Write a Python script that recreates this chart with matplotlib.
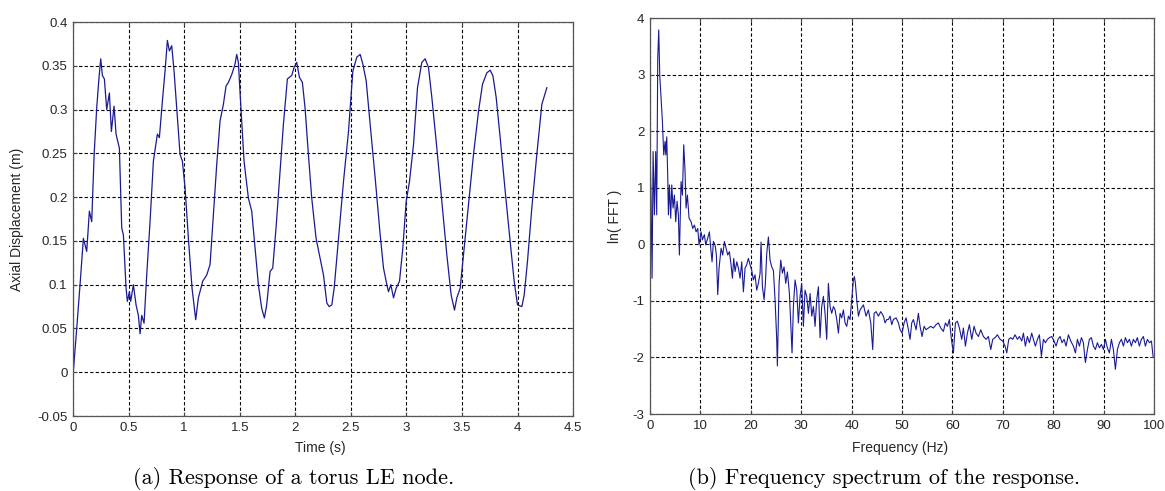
import matplotlib
matplotlib.use('Agg')
import matplotlib.pyplot as plt

# (a) axial displacement of the torus LE node
time_s = [0.0, 0.033, 0.063, 0.093, 0.123, 0.147, 0.168, 0.19, 0.213, 0.234, 0.249, 0.264,
          0.282, 0.303, 0.327, 0.345, 0.369, 0.387, 0.417, 0.438, 0.453, 0.477, 0.489, 0.507,
          0.519, 0.543, 0.567, 0.588, 0.603, 0.618, 0.639, 0.663, 0.693, 0.723, 0.759, 0.777,
          0.807, 0.828, 0.849, 0.867, 0.888, 0.909, 0.933, 0.963, 0.984, 1.008, 1.038, 1.071,
          1.104, 1.128, 1.167, 1.203, 1.233, 1.263, 1.293, 1.323, 1.353, 1.377, 1.398, 1.428,
          1.458, 1.473, 1.488, 1.509, 1.539, 1.578, 1.608, 1.638, 1.668, 1.698, 1.722, 1.743,
          1.773, 1.797, 1.827, 1.863, 1.893, 1.929, 1.968, 1.989, 2.013, 2.037, 2.064, 2.088,
          2.118, 2.148, 2.187, 2.217, 2.254, 2.284, 2.305, 2.329, 2.35, 2.389, 2.434, 2.479,
          2.518, 2.554, 2.584, 2.608, 2.638, 2.674, 2.719, 2.764, 2.794, 2.824, 2.839, 2.86,
          2.884, 2.908, 2.938, 2.968, 2.998, 3.028, 3.064, 3.1, 3.139, 3.169, 3.199, 3.229,
          3.274, 3.319, 3.364, 3.403, 3.433, 3.454, 3.484, 3.514, 3.559, 3.604, 3.649, 3.685,
          3.724, 3.754, 3.778, 3.808, 3.844, 3.889, 3.934, 3.97, 4.0, 4.039, 4.06, 4.09,
          4.129, 4.174, 4.219, 4.264]
displacement = [-0.003, 0.05, 0.10, 0.153, 0.138, 0.184, 0.172, 0.249, 0.302, 0.337, 0.358, 0.339,
                0.335, 0.30, 0.319, 0.275, 0.304, 0.272, 0.256, 0.165, 0.157, 0.096, 0.081, 0.092,
                0.081, 0.10, 0.077, 0.065, 0.044, 0.065, 0.056, 0.111, 0.172, 0.241, 0.272, 0.268,
                0.314, 0.344, 0.379, 0.367, 0.373, 0.344, 0.302, 0.249, 0.241, 0.211, 0.153, 0.096,
                0.06, 0.085, 0.104, 0.111, 0.123, 0.18, 0.237, 0.287, 0.306, 0.327, 0.331, 0.34,
                0.352, 0.363, 0.354, 0.306, 0.241, 0.199, 0.184, 0.142, 0.10, 0.073, 0.062, 0.077,
                0.115, 0.119, 0.165, 0.23, 0.283, 0.335, 0.339, 0.348, 0.354, 0.337, 0.331, 0.302,
                0.249, 0.199, 0.153, 0.134, 0.111, 0.079, 0.075, 0.077, 0.096, 0.153, 0.218, 0.275,
                0.344, 0.36, 0.363, 0.352, 0.333, 0.283, 0.222, 0.157, 0.119, 0.10, 0.092, 0.10,
                0.085, 0.096, 0.104, 0.142, 0.195, 0.218, 0.26, 0.325, 0.354, 0.358, 0.348, 0.314,
                0.256, 0.195, 0.134, 0.088, 0.071, 0.085, 0.096, 0.134, 0.191, 0.249, 0.298, 0.329,
                0.342, 0.345, 0.339, 0.314, 0.268, 0.207, 0.149, 0.104, 0.077, 0.075, 0.088, 0.127,
                0.188, 0.249, 0.306, 0.325]

# (b) ln of the FFT magnitude
freq_hz = [0.0, 0.2, 0.4, 0.6, 0.86, 1.12, 1.32, 1.52, 1.72, 1.92, 2.18, 2.45, 2.71, 2.98, 3.11,
           3.31, 3.51, 3.64, 3.84, 4.10, 4.30, 4.56, 4.83, 5.09, 5.36, 5.62, 5.82, 6.15, 6.42,
           6.68, 6.94, 7.14, 7.41, 7.74, 8.13, 8.47, 8.80, 9.13, 9.46, 9.72, 10.12, 10.38, 10.78,
           11.04, 11.44, 11.77, 12.04, 12.30, 12.57, 12.90, 13.16, 13.43, 13.69, 14.09, 14.42,
           14.75, 15.08, 15.41, 15.74, 16.07, 16.34, 16.60, 16.87, 17.20, 17.53, 17.86, 18.19,
           18.52, 18.85, 19.18, 19.51, 19.84, 20.17, 20.50, 20.83, 21.16, 21.49, 21.83, 22.02,
           22.29, 22.62, 22.88, 23.15, 23.48, 23.81, 24.14, 24.47, 24.80, 25.13, 25.26, 25.60,
           25.93, 26.26, 26.59, 26.92, 27.25, 27.65, 27.91, 28.17, 28.44, 28.77, 29.10, 29.43,
           29.76, 30.09, 30.42, 30.75, 31.08, 31.42, 31.75, 32.08, 32.41, 32.74, 33.07, 33.40,
           33.73, 34.06, 34.39, 34.72, 35.05, 35.38, 35.71, 36.04, 36.38, 36.71, 37.04, 37.37,
           37.70, 38.03, 38.36, 38.69, 39.02, 39.35, 39.68, 40.01, 40.34, 40.54, 40.74, 41.01,
           41.34, 41.67, 42.33, 42.86, 43.32, 43.79, 44.18, 44.45, 44.84, 45.31, 45.77, 46.30,
           46.63, 46.96, 47.29, 47.62, 47.95, 48.28, 48.81, 49.28, 49.61, 50.00, 50.40, 50.80,
           51.26, 51.59, 51.92, 52.25, 52.78, 53.24, 53.57, 53.97, 54.37, 54.76, 55.23, 55.69,
           56.22, 56.75, 57.21, 57.68, 58.20, 58.60, 59.00, 59.39, 59.79, 60.19, 60.59, 60.98,
           61.38, 61.84, 62.17, 62.57, 62.97, 63.36, 63.83, 64.29, 64.69, 65.15, 65.61, 66.14,
           66.67, 67.13, 67.60, 67.99, 68.45, 68.92, 69.45, 69.98, 70.44, 70.77, 71.17, 71.56,
           71.96, 72.42, 72.89, 73.28, 73.75, 74.08, 74.47, 74.87, 75.27, 75.73, 76.06, 76.46,
           76.86, 77.25, 77.65, 78.05, 78.44, 78.84, 79.24, 79.70, 80.16, 80.56, 80.95, 81.35,
           81.75, 82.15, 82.54, 83.01, 83.47, 84.00, 84.40, 84.79, 85.19, 85.59, 85.98, 86.38,
           86.78, 87.17, 87.57, 87.97, 88.36, 88.76, 89.16, 89.55, 89.95, 90.35, 90.74, 91.14,
           91.54, 91.93, 92.33, 92.73, 93.13, 93.52, 93.92, 94.32, 94.71, 95.11, 95.50, 95.90,
           96.30, 96.69, 97.09, 97.49, 97.89, 98.28, 98.68, 99.08, 99.48, 99.81]
ln_fft = [1.70, 0.75, -0.60, 1.64, 0.52, 1.64, 0.52, 3.29, 3.79, 2.99, 2.58, 2.17, 1.58, 1.82, 1.58,
          1.90, 1.17, 0.52, 1.05, 0.46, 1.05, 0.64, 0.87, 0.40, 0.76, 0.52, -0.19, 1.11, 0.87,
          1.76, 1.29, 0.64, 0.87, 0.46, 0.40, 0.28, 0.34, 0.22, 0.28, -0.01, 0.22, 0.08, 0.17,
          -0.01, 0.11, 0.22, -0.07, -0.31, 0.05, -0.01, -0.19, -0.89, -0.42, -0.07, -0.19,
          0.05, -0.07, -0.19, -0.13, -0.36, -0.60, -0.25, -0.48, -0.31, -0.42, -0.60, -0.31,
          -0.84, -0.42, -0.36, -0.25, -0.36, -0.46, -0.63, -0.54, -0.81, -0.69, -0.51, 0.04,
          -0.75, -0.98, -0.69, -0.16, 0.13, -0.28, -0.40, -0.46, -0.98, -1.68, -2.15, -0.69,
          -0.28, -0.51, -0.40, -0.69, -0.49, -0.87, -1.39, -1.92, -1.10, -0.63, -0.81, -1.39,
          -0.92, -0.69, -1.45, -0.81, -0.92, -1.22, -0.87, -1.27, -1.10, -1.45, -0.98, -0.75,
          -1.65, -1.10, -0.92, -1.22, -1.68, -0.69, -1.10, -1.22, -1.10, -1.16, -1.33, -1.57,
          -1.22, -1.30, -1.16, -1.39, -1.45, -1.27, -1.33, -0.98, -0.63, -0.57, -0.69, -0.98,
          -1.27, -1.16, -1.07, -1.27, -1.16, -1.39, -1.86, -1.22, -1.19, -1.27, -1.19, -1.27,
          -1.39, -1.33, -1.33, -1.27, -1.42, -1.33, -1.30, -1.39, -1.51, -1.57, -1.39, -1.30,
          -1.51, -1.68, -1.39, -1.33, -1.51, -1.22, -1.45, -1.63, -1.45, -1.51, -1.48, -1.45,
          -1.48, -1.42, -1.39, -1.48, -1.54, -1.39, -1.45, -1.33, -1.68, -1.92, -1.39, -1.36,
          -1.48, -1.68, -1.48, -1.80, -1.57, -1.42, -1.68, -1.45, -1.57, -1.63, -1.51, -1.63,
          -1.68, -1.63, -1.86, -1.68, -1.65, -1.60, -1.68, -1.71, -1.80, -1.92, -1.68, -1.65,
          -1.68, -1.60, -1.68, -1.63, -1.71, -1.57, -1.80, -1.63, -1.74, -1.57, -1.68, -1.80,
          -1.68, -1.60, -1.98, -1.68, -1.74, -1.68, -1.65, -1.63, -1.71, -1.80, -1.68, -1.63,
          -1.74, -1.68, -1.80, -1.60, -1.71, -1.80, -1.92, -1.68, -1.80, -1.65, -1.74, -2.09,
          -1.86, -1.68, -1.65, -1.80, -1.86, -1.74, -1.83, -1.77, -1.86, -1.68, -1.83, -1.92,
          -1.68, -1.86, -2.21, -1.86, -1.74, -1.68, -1.80, -1.65, -1.74, -1.68, -1.80, -1.68,
          -1.74, -1.65, -1.80, -1.68, -1.63, -1.80, -1.68, -1.74, -1.71, -1.98]

time_ticks = [0, 0.5, 1, 1.5, 2, 2.5, 3, 3.5, 4, 4.5]
time_labels = ['0', '0.5', '1', '1.5', '2', '2.5', '3', '3.5', '4', '4.5']
disp_ticks = [-0.05, 0, 0.05, 0.1, 0.15, 0.2, 0.25, 0.3, 0.35, 0.4]
disp_labels = ['-0.05', '0', '0.05', '0.1', '0.15', '0.2', '0.25', '0.3', '0.35', '0.4']
freq_ticks = [0, 10, 20, 30, 40, 50, 60, 70, 80, 90, 100]
fft_ticks = [-3, -2, -1, 0, 1, 2, 3, 4]
fft_labels = ['-3', '-2', '-1', '0', '1', '2', '3', '4']

line_col = '#1a1a94'
txt_col = '#262626'

plt.rcParams['font.family'] = ['Liberation Sans', 'DejaVu Sans']

fig = plt.figure(figsize=(11.65, 4.91), dpi=100)
ax1 = fig.add_axes([0.0627, 0.1527, 0.4292, 0.8024])
ax2 = fig.add_axes([0.558, 0.1568, 0.4326, 0.8065])


def style(ax):
    ax.grid(True, color='black', linestyle=(0, (3, 2)), linewidth=0.8)
    ax.tick_params(direction='in', top=True, right=True, length=3, width=0.8,
                   labelsize=9.5, labelcolor=txt_col, color='#444444', pad=4)
    for s in ax.spines.values():
        s.set_color('#555555')
        s.set_linewidth(0.9)


ax1.plot(time_s, displacement, color=line_col, linewidth=0.9)
ax1.set_xlim(0, 4.5)
ax1.set_ylim(-0.05, 0.4)
ax1.set_xticks(time_ticks)
ax1.set_xticklabels(time_labels)
ax1.set_yticks(disp_ticks)
ax1.set_yticklabels(disp_labels)
style(ax1)
ax1.set_xlabel('Time (s)', fontsize=10, color=txt_col, va='center')
ax1.xaxis.set_label_coords(0.494, -0.081)
ax1.set_ylabel('Axial Displacement (m)', fontsize=10, color=txt_col, va='center')
ax1.yaxis.set_label_coords(-0.112, 0.5)

ax2.plot(freq_hz, ln_fft, color=line_col, linewidth=0.8)
ax2.set_xlim(0, 100)
ax2.set_ylim(-3, 4)
ax2.set_xticks(freq_ticks)
ax2.set_yticks(fft_ticks)
ax2.set_yticklabels(fft_labels)
style(ax2)
ax2.set_xlabel('Frequency (Hz)', fontsize=10, color=txt_col, va='center')
ax2.xaxis.set_label_coords(0.496, -0.086)
ax2.set_ylabel('ln( FFT )', fontsize=10, color=txt_col, va='center')
ax2.yaxis.set_label_coords(-0.069, 0.5)

fig.text(294 / 1165, 1 - 479 / 491, '(a) Response of a torus LE node.',
         family='cmr10', fontsize=16, ha='center', va='center', color='black')
fig.text(884 / 1165, 1 - 479 / 491, '(b) Frequency spectrum of the response.',
         family='cmr10', fontsize=16, ha='center', va='center', color='black')

fig.savefig('out.png', dpi=100)
